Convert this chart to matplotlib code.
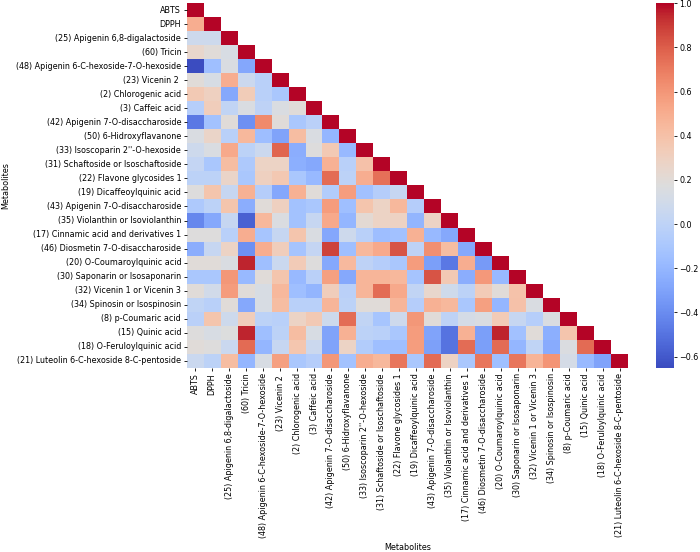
import numpy as np
import matplotlib
matplotlib.use("Agg")
import matplotlib.pyplot as plt
import seaborn as sns

metabolites = [
    "ABTS", "DPPH", "(25) Apigenin 6,8-digalactoside", "(60) Tricin",
    "(48) Apigenin 6-C-hexoside-7-O-hexoside", "(23) Vicenin 2 ",
    "(2) Chlorogenic acid", "(3) Caffeic acid", "(42) Apigenin 7-O-disaccharoside",
    "(50) 6-Hidroxyflavanone", "(33) Isoscoparin 2''-O-hexoside",
    "(31) Schaftoside or Isoschaftoside", "(22) Flavone glycosides 1",
    "(19) Dicaffeoylquinic acid", "(43) Apigenin 7-O-disaccharoside",
    "(35) Violanthin or Isoviolanthin", "(17) Cinnamic acid and derivatives 1",
    "(46) Diosmetin 7-O-disaccharoside", "(20) O-Coumaroylquinic acid",
    "(30) Saponarin or Isosaponarin", "(32) Vicenin 1 or Vicenin 3",
    "(34) Spinosin or Isospinosin", "(8) p-Coumaric acid", "(15) Quinic acid",
    "(18) O-Feruloylquinic acid", "(21) Luteolin 6-C-hexoside 8-C-pentoside",
]

# lower triangle of the correlation matrix, row by row (diagonal = 1)
corr_rows = [
    [],
    [0.50],
    [0.08, 0.08],
    [0.25, 0.20, 0.14],
    [-0.65, -0.15, 0.15, -0.28],
    [0.20, 0.13, 0.50, 0.07, -0.03],
    [0.35, 0.30, -0.27, 0.33, -0.03, -0.10],
    [-0.04, 0.32, 0.02, 0.15, 0.00, 0.15, 0.20],
    [-0.48, -0.13, 0.20, -0.38, 0.65, 0.20, -0.10, -0.02],
    [0.15, 0.27, -0.03, 0.45, -0.16, -0.30, 0.42, 0.15, -0.20],
    [0.08, 0.15, 0.52, -0.01, 0.07, 0.78, -0.25, 0.18, 0.35, -0.18],
    [0.03, -0.10, 0.42, -0.08, 0.28, 0.28, -0.24, -0.27, 0.48, -0.03, 0.40],
    [-0.01, -0.01, 0.27, -0.10, 0.30, 0.36, -0.10, -0.18, 0.75, -0.01, 0.50, 0.74],
    [0.18, 0.38, 0.04, 0.48, -0.05, -0.28, 0.48, 0.20, -0.06, 0.57, -0.14, -0.05, 0.04],
    [-0.08, -0.01, 0.38, -0.25, 0.20, 0.30, -0.13, -0.10, 0.58, -0.15, 0.38, 0.28, 0.45, -0.05],
    [-0.42, -0.27, 0.04, -0.57, 0.45, 0.16, -0.13, 0.04, 0.52, -0.20, 0.22, 0.28, 0.29, -0.21, 0.28],
    [0.18, 0.18, -0.03, 0.50, -0.11, 0.04, 0.38, 0.15, -0.28, 0.08, -0.03, -0.16, -0.14, 0.48,
     -0.18, -0.27],
    [-0.25, 0.04, 0.28, -0.38, 0.50, 0.32, -0.12, 0.03, 0.88, -0.15, 0.45, 0.52, 0.83, 0.00,
     0.63, 0.42, -0.27],
    [0.20, 0.20, 0.15, 0.95, -0.15, 0.06, 0.34, 0.18, -0.27, 0.44, 0.00, -0.05, -0.10, 0.58,
     -0.32, -0.48, 0.50, -0.34],
    [-0.10, -0.10, 0.60, -0.18, 0.20, 0.38, -0.18, -0.02, 0.56, -0.27, 0.46, 0.46, 0.45, -0.12,
     0.83, 0.35, -0.25, 0.59, -0.18],
    [0.20, 0.10, 0.58, 0.20, 0.14, 0.45, -0.15, -0.21, 0.32, -0.02, 0.46, 0.75, 0.52, 0.02,
     0.25, 0.09, -0.01, 0.34, 0.20, 0.39],
    [0.01, -0.03, 0.20, -0.27, 0.14, 0.42, -0.03, -0.03, 0.46, -0.01, 0.20, 0.20, 0.46, -0.05,
     0.48, 0.45, -0.10, 0.56, -0.20, 0.40, 0.15],
    [-0.02, 0.38, 0.08, 0.32, -0.01, -0.03, 0.28, 0.35, 0.08, 0.75, 0.02, -0.11, 0.08, 0.60,
     0.20, 0.00, 0.12, 0.15, 0.34, 0.04, -0.04, 0.15],
    [0.18, 0.14, 0.17, 0.95, -0.15, -0.01, 0.42, 0.14, -0.30, 0.48, -0.01, -0.03, -0.10, 0.58,
     -0.30, -0.50, 0.48, -0.32, 0.95, -0.14, 0.20, -0.24, 0.38],
    [0.20, 0.18, 0.06, 0.76, -0.20, 0.04, 0.37, 0.07, -0.30, 0.28, -0.06, -0.15, -0.15, 0.57,
     -0.31, -0.50, 0.75, -0.32, 0.76, -0.20, 0.01, -0.26, 0.16, 0.76],
    [0.06, -0.01, 0.42, -0.20, 0.14, 0.56, -0.10, -0.05, 0.60, -0.13, 0.50, 0.45, 0.72, -0.10,
     0.76, 0.29, -0.10, 0.72, -0.15, 0.72, 0.47, 0.61, 0.12, -0.18, -0.30],
]

n = len(metabolites)
corr = np.eye(n)
for i, row in enumerate(corr_rows):
    for j, v in enumerate(row):
        corr[i, j] = v
        corr[j, i] = v

mask = np.triu(np.ones_like(corr, dtype=bool), k=1)

fig = plt.figure(figsize=(7, 5.52), dpi=100)
ax = fig.add_axes([0.2667, 0.334, 0.6305, 0.660])
cax = fig.add_axes([0.937, 0.334, 0.0257, 0.660])

fs = 5.8
sns.heatmap(corr, mask=mask, cmap="coolwarm", ax=ax, cbar_ax=cax,
            xticklabels=metabolites, yticklabels=metabolites)
ax.tick_params(labelsize=fs, length=2.5, width=0.6, pad=1.5)
ax.set_xticklabels(metabolites, rotation=90, fontsize=fs)
ax.set_yticklabels(metabolites, rotation=0, fontsize=fs)
ax.set_xlabel("Metabolites", fontsize=fs)
ax.set_ylabel("Metabolites", fontsize=fs)
ax.xaxis.set_label_coords(0.5, -0.48)
ax.yaxis.set_label_coords(-0.40, 0.5)
cax.tick_params(labelsize=fs, length=2.5, width=0.6, pad=1.5)
cax.set_yticks([-0.6, -0.4, -0.2, 0.0, 0.2, 0.4, 0.6, 0.8, 1.0])

fig.savefig("out.png", dpi=100)
